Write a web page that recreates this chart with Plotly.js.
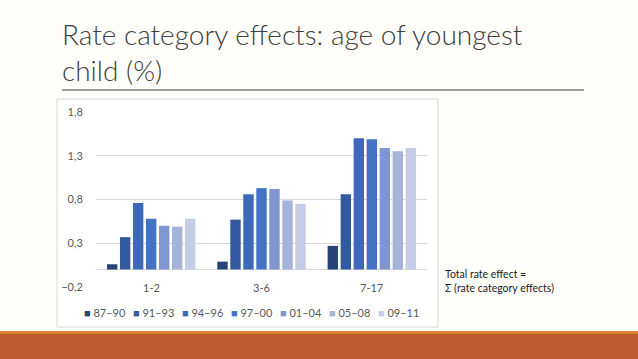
<!DOCTYPE html>
<html>
<head>
<meta charset="utf-8">
<script src="https://cdn.plot.ly/plotly-3.0.1.min.js"></script>
<style>html,body{margin:0;padding:0;background:#FFFEFA;}#chart{width:638px;height:359px;}</style>
</head>
<body>
<div id="chart"></div>
<script>
// ---- data ----
const categories = ["1-2", "3-6", "7-17"];
const seriesNames = ["87–90", "91–93", "94–96", "97–00", "01–04", "05–08", "09–11"];
const s8790 = [0.06, 0.09, 0.27];
const s9193 = [0.37, 0.57, 0.86];
const s9496 = [0.76, 0.86, 1.50];
const s9700 = [0.58, 0.93, 1.49];
const s0104 = [0.50, 0.92, 1.39];
const s0508 = [0.49, 0.79, 1.35];
const s0911 = [0.58, 0.75, 1.39];
const yTickVals = [-0.2, 0.3, 0.8, 1.3, 1.8];
const titleText = "Rate category effects: age of youngest<br>child (%)";
const noteText = "Total rate effect =<br>Σ (rate category effects)";

// ---- styling ----
const seriesValues = [s8790, s9193, s9496, s9700, s0104, s0508, s0911];
const colors = ["#264478", "#335AA1", "#3C69B9", "#4472C4", "#7F96D0", "#A5B3DA", "#C5CDE6"];
const W = 638, H = 359;
const L = 96, R = 211, T = 112, B = 72;
const pw = W - L - R, ph = H - T - B;
const X = px => (px - L) / pw;
const Y = py => (H - B - py) / ph;
const FONT = "Lato, 'Open Sans', sans-serif";

const traces = seriesNames.map((n, i) => ({
  type: "bar", name: n, x: categories, y: seriesValues[i],
  marker: {color: colors[i]}, showlegend: false, hoverinfo: "x+y+name"
}));

const annotations = [];
categories.forEach(c => annotations.push({
  x: c, y: yTickVals[0], xref: "x", yref: "y", text: c, showarrow: false,
  xanchor: "center", yanchor: "middle", font: {family: FONT, size: 11, color: "#595959"}
}));
seriesNames.forEach((n, i) => annotations.push({
  x: X(82 + i * 49), y: Y(312), xref: "paper", yref: "paper", xanchor: "left", yanchor: "middle",
  showarrow: false, text: `<span style="color:${colors[i]}">■</span> ${n}`,
  font: {family: FONT, size: 11, color: "#595959"}
}));
annotations.push({
  x: X(443), y: Y(266), xref: "paper", yref: "paper", xanchor: "left", yanchor: "top",
  align: "left", showarrow: false, text: noteText,
  font: {family: FONT, size: 10.5, color: "#1A1A1A"}
});

const shapes = [
  {type: "rect", xref: "paper", yref: "paper", x0: X(57), x1: X(438), y0: Y(99), y1: Y(327),
   fillcolor: "#FFFFFF", line: {color: "#D9D9D9", width: 1}, layer: "below"},
  {type: "line", xref: "paper", yref: "paper", x0: X(62), x1: X(584), y0: Y(90), y1: Y(90),
   line: {color: "#7F7F7F", width: 1.5}},
  {type: "rect", xref: "paper", yref: "paper", x0: X(-5), x1: X(645), y0: Y(331), y1: Y(334),
   fillcolor: "#E0832F", line: {width: 0}},
  {type: "rect", xref: "paper", yref: "paper", x0: X(-5), x1: X(645), y0: Y(334), y1: Y(365),
   fillcolor: "#BE5A2C", line: {width: 0}}
];

const layout = {
  width: W, height: H,
  margin: {l: L, r: R, t: T, b: B, pad: 0},
  paper_bgcolor: "#FFFEFA", plot_bgcolor: "#FFFFFF",
  separators: ",.",
  font: {family: FONT, color: "#595959"},
  title: {text: titleText, x: 62 / W, xref: "container", xanchor: "left",
          y: 1 - 45 / H, yref: "container", yanchor: "top",
          font: {family: FONT, size: 28, color: "#404040", weight: 300}},
  barmode: "group", bargap: 0.175, bargroupgap: 0.2,
  xaxis: {type: "category", range: [-0.5, 2.5], showticklabels: false, showgrid: false,
          zeroline: false, showline: false, ticks: ""},
  yaxis: {range: [-0.2, 1.8], tickvals: yTickVals, tickformat: ".1f", showgrid: true,
          gridcolor: "#D9D9D9", gridwidth: 1, zeroline: true, zerolinecolor: "#D9D9D9",
          zerolinewidth: 1, showline: false, ticks: "outside", ticklen: 10,
          tickcolor: "rgba(0,0,0,0)", tickfont: {family: FONT, size: 11, color: "#595959"}},
  annotations: annotations, shapes: shapes, showlegend: false
};

Plotly.newPlot("chart", traces, layout, {displayModeBar: false, staticPlot: true});
</script>
</body>
</html>
